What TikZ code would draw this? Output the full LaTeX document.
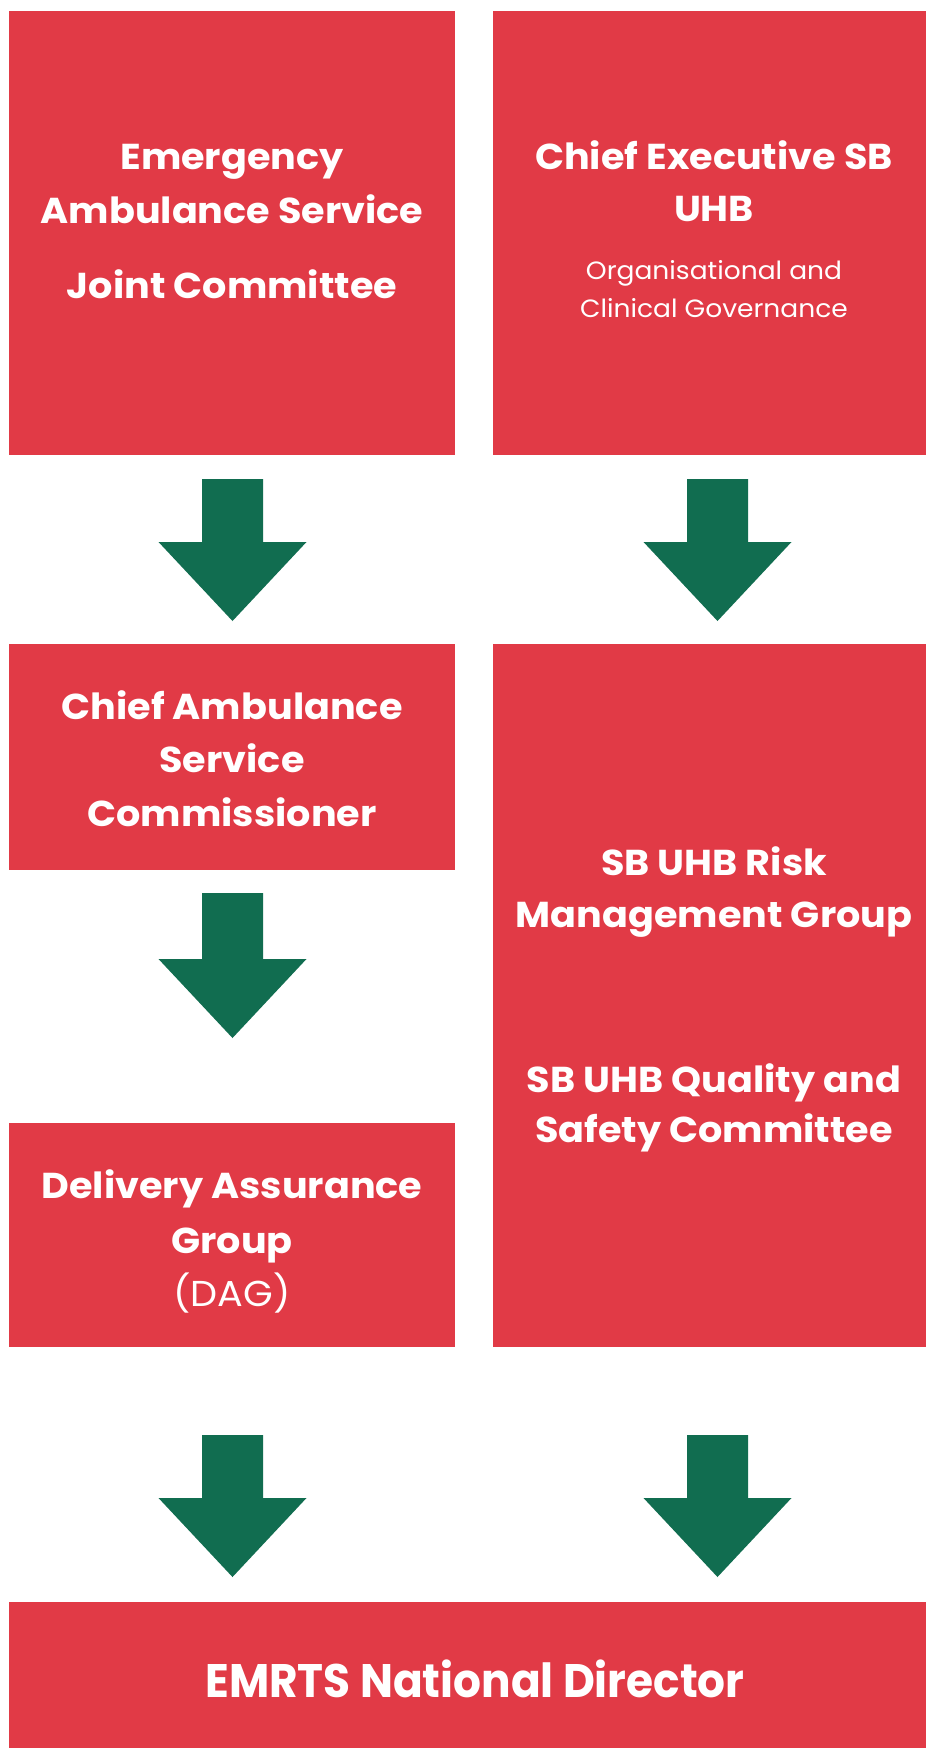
\documentclass[tikz,border=0pt]{standalone}
\usepackage{fontspec}
\setmainfont{Poppins}[FakeStretch=1.06]
\usepackage{graphicx}
\definecolor{boxred}{HTML}{E13A46}
\definecolor{arrowgreen}{HTML}{116D50}
\newcommand\gArrow[4]{% #1 name, #2 centre x, #3 top y, #4 shaft length
  \fill[arrowgreen] (#2-30.5,#3) -- (#2+30.5,#3) -- (#2+30.5,#3+#4) -- (#2+74,#3+#4)
     -- (#2,#3+#4+79) coordinate (#1) -- (#2-74,#3+#4) -- (#2-30.5,#3+#4) -- cycle;}
\begin{document}
\begin{tikzpicture}[x=1pt,y=-1pt,
  box/.style={fill=boxred, draw=none, inner sep=0pt, anchor=north west},
  bt/.style={text=white, font=\fontsize{36}{42}\selectfont\bfseries, anchor=base, inner sep=0pt},
  rt/.style={text=white, font=\fontsize{36}{42}\selectfont, anchor=base, inner sep=0pt},
  st/.style={text=white, font=\fontsize{25}{28}\selectfont, anchor=base, inner sep=0pt}]
\useasboundingbox (0,0) rectangle (926,1748);
\fill[white] (0,0) rectangle (926,1748);
% boxes
\node[box, minimum width=446, minimum height=444] (ajc) at (9,11) {};
\node[box, minimum width=433, minimum height=444] (ceo) at (493,11) {};
\node[box, minimum width=446, minimum height=226] (casc) at (9,644) {};
\node[box, minimum width=433, minimum height=703] (rmg) at (493,644) {};
\node[box, minimum width=446, minimum height=224] (dag) at (9,1123) {};
\node[box, minimum width=917, minimum height=146] (emr) at (9,1602) {};
% texts
\node[bt] (t1) at (232,169) {Emergency};
\node[bt] (t2) at (232,223) {Ambulance Service};
\node[bt] (t3) at (232,298) {Joint Committee};
\node[bt] (t4) at (714,169) {Chief Executive SB};
\node[bt] (t5) at (714,221) {UHB};
\node[st] (t6) at (714,279) {Organisational and};
\node[st] (t7) at (714,317) {Clinical Governance};
\node[bt] (t8) at (232,719) {Chief Ambulance};
\node[bt] (t9) at (232,772) {Service};
\node[bt] (t10) at (232,826) {Commissioner};
\node[bt] (t11) at (714,875) {SB UHB Risk};
\node[bt] (t12) at (714,927) {Management Group};
\node[bt] (t13) at (714,1092) {SB UHB Quality and};
\node[bt] (t14) at (714,1142) {Safety Committee};
\node[bt] (t15) at (232,1198) {Delivery Assurance};
\node[bt] (t16) at (232,1253) {Group};
\node[rt] (t17) at (232,1306) {(DAG)};
\node[bt, font=\fontsize{47}{56}\selectfont\bfseries] (t18) at (475,1697) {\scalebox{0.88}[1]{EMRTS National Director}};
% arrows
\gArrow{a1}{232.5}{479}{63}
\gArrow{a2}{717.5}{479}{63}
\gArrow{a3}{232.5}{893}{66}
\gArrow{a4}{232.5}{1435}{63}
\gArrow{a5}{717.5}{1435}{63}
\end{tikzpicture}
\end{document}
